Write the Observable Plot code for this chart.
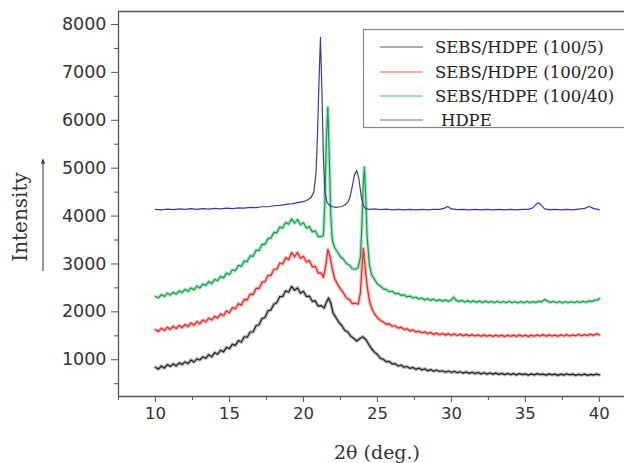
<!DOCTYPE html>
<html>
<head>
<meta charset="utf-8">
<script src="https://cdn.jsdelivr.net/npm/d3@7"></script>
<script src="https://cdn.jsdelivr.net/npm/@observablehq/plot@0.6"></script>
<style>
  html, body { margin: 0; padding: 0; background: #fff; }
  #chart { position: relative; width: 624px; height: 463px; overflow: hidden; }
</style>
</head>
<body>
<div id="chart"></div>
<script>
// ---- data (2θ in degrees, intensity in counts) ----
const seriesNames = ["SEBS/HDPE (100/5)", "SEBS/HDPE (100/20)", "SEBS/HDPE (100/40)", "HDPE"];
const seriesColors = ["#222222", "#e8261f", "#10a04a", "#3b3b9c"];

const sebs5 = [
[10.0,840],[10.2,805],[10.4,870],[10.6,825],[10.8,900],[11.0,860],[11.2,915],[11.4,870],[11.6,935],[11.8,900],
[12.0,955],[12.2,920],[12.4,995],[12.6,950],[12.8,1020],[13.0,995],[13.2,1060],[13.4,1030],[13.6,1105],[13.8,1060],
[14.0,1150],[14.2,1115],[14.4,1200],[14.6,1165],[14.8,1260],[15.0,1230],[15.2,1325],[15.4,1300],[15.6,1400],[15.8,1370],
[16.0,1480],[16.2,1470],[16.4,1580],[16.6,1580],[16.8,1710],[17.0,1730],[17.2,1860],[17.4,1880],[17.6,2020],[17.8,2040],
[18.0,2160],[18.2,2190],[18.4,2320],[18.6,2320],[18.8,2440],[19.0,2410],[19.2,2530],[19.4,2450],[19.6,2500],[19.8,2390],
[20.0,2430],[20.2,2320],[20.4,2330],[20.6,2220],[20.8,2230],[21.0,2120],[21.2,2130],[21.4,2080],[21.55,2200],[21.7,2290],
[21.85,2180],[22.0,1980],[22.2,1880],[22.4,1780],[22.6,1710],[22.8,1610],[23.0,1580],[23.2,1490],[23.4,1450],[23.6,1390],
[23.8,1440],[24.0,1480],[24.2,1430],[24.4,1330],[24.6,1230],[24.8,1160],[25.0,1110],[25.2,1030],[25.4,1010],[25.6,960],
[25.8,965],[26.0,910],[26.2,920],[26.4,870],[26.6,890],[26.8,845],[27.0,860],[27.2,820],[27.4,840],[27.6,800],
[27.8,825],[28.0,790],[28.2,810],[28.4,770],[28.6,795],[28.8,760],[29.0,785],[29.2,755],[29.4,770],[29.6,740],
[29.8,765],[30.0,735],[30.2,760],[30.4,730],[30.6,750],[30.8,720],[31.0,745],[31.2,715],[31.4,740],[31.6,710],
[31.8,735],[32.0,705],[32.2,730],[32.4,700],[32.6,725],[32.8,700],[33.0,720],[33.2,695],[33.4,715],[33.6,690],
[33.8,715],[34.0,690],[34.2,710],[34.4,685],[34.6,710],[34.8,690],[35.0,705],[35.2,680],[35.4,705],[35.6,685],
[35.8,710],[36.0,690],[36.2,700],[36.4,680],[36.6,705],[36.8,685],[37.0,700],[37.2,675],[37.4,700],[37.6,680],
[37.8,705],[38.0,685],[38.2,700],[38.4,675],[38.6,695],[38.8,680],[39.0,700],[39.2,675],[39.4,695],[39.6,680],
[39.8,700],[40.0,685]
];

const sebs20 = [
[10.0,1630],[10.2,1590],[10.4,1660],[10.6,1610],[10.8,1680],[11.0,1630],[11.2,1700],[11.4,1650],[11.6,1720],[11.8,1670],
[12.0,1740],[12.2,1690],[12.4,1770],[12.6,1720],[12.8,1800],[13.0,1750],[13.2,1830],[13.4,1790],[13.6,1870],[13.8,1830],
[14.0,1910],[14.2,1870],[14.4,1960],[14.6,1920],[14.8,2020],[15.0,1980],[15.2,2090],[15.4,2060],[15.6,2170],[15.8,2140],
[16.0,2260],[16.2,2250],[16.4,2370],[16.6,2360],[16.8,2490],[17.0,2490],[17.2,2620],[17.4,2630],[17.6,2760],[17.8,2760],
[18.0,2890],[18.2,2890],[18.4,3020],[18.6,3000],[18.8,3130],[19.0,3090],[19.2,3240],[19.4,3150],[19.6,3240],[19.8,3120],
[20.0,3160],[20.2,3040],[20.4,3070],[20.6,2940],[20.8,2950],[21.0,2810],[21.2,2810],[21.35,2720],[21.5,2950],[21.65,3300],
[21.8,3150],[21.95,2900],[22.1,2700],[22.3,2580],[22.5,2480],[22.7,2400],[22.9,2290],[23.1,2260],[23.3,2170],[23.5,2180],
[23.7,2160],[23.85,2400],[23.95,2900],[24.05,3320],[24.15,3000],[24.3,2550],[24.45,2250],[24.6,2080],[24.8,1960],[25.0,1880],
[25.2,1820],[25.4,1790],[25.6,1740],[25.8,1750],[26.0,1700],[26.2,1710],[26.4,1660],[26.6,1680],[26.8,1630],[27.0,1650],
[27.2,1600],[27.4,1625],[27.6,1580],[27.8,1600],[28.0,1560],[28.2,1585],[28.4,1545],[28.6,1570],[28.8,1530],[29.0,1560],
[29.2,1520],[29.4,1550],[29.6,1515],[29.8,1545],[30.0,1510],[30.2,1540],[30.4,1505],[30.6,1535],[30.8,1500],[31.0,1530],
[31.2,1495],[31.4,1525],[31.6,1495],[31.8,1520],[32.0,1490],[32.2,1520],[32.4,1490],[32.6,1515],[32.8,1485],[33.0,1515],
[33.2,1490],[33.4,1515],[33.6,1485],[33.8,1510],[34.0,1490],[34.2,1515],[34.4,1485],[34.6,1520],[34.8,1490],[35.0,1515],
[35.2,1485],[35.4,1515],[35.6,1490],[35.8,1520],[36.0,1495],[36.2,1525],[36.4,1490],[36.6,1520],[36.8,1495],[37.0,1515],
[37.2,1490],[37.4,1520],[37.6,1495],[37.8,1525],[38.0,1495],[38.2,1520],[38.4,1500],[38.6,1530],[38.8,1500],[39.0,1525],
[39.2,1505],[39.4,1535],[39.6,1510],[39.8,1540],[40.0,1520]
];

const sebs40 = [
[10.0,2320],[10.2,2290],[10.4,2360],[10.6,2320],[10.8,2390],[11.0,2350],[11.2,2410],[11.4,2370],[11.6,2440],[11.8,2400],
[12.0,2470],[12.2,2430],[12.4,2500],[12.6,2460],[12.8,2540],[13.0,2500],[13.2,2580],[13.4,2550],[13.6,2630],[13.8,2590],
[14.0,2680],[14.2,2650],[14.4,2740],[14.6,2710],[14.8,2810],[15.0,2780],[15.2,2880],[15.4,2860],[15.6,2970],[15.8,2950],
[16.0,3060],[16.2,3050],[16.4,3170],[16.6,3160],[16.8,3290],[17.0,3280],[17.2,3410],[17.4,3410],[17.6,3530],[17.8,3540],
[18.0,3660],[18.2,3650],[18.4,3770],[18.6,3750],[18.8,3870],[19.0,3830],[19.2,3940],[19.4,3850],[19.6,3930],[19.8,3820],
[20.0,3860],[20.2,3750],[20.4,3780],[20.6,3670],[20.8,3690],[21.0,3570],[21.2,3570],[21.35,3600],[21.45,4300],[21.55,5600],
[21.65,6270],[21.75,5200],[21.85,4000],[21.95,3500],[22.1,3350],[22.3,3250],[22.5,3150],[22.7,3100],[22.9,3010],[23.1,2980],
[23.3,2900],[23.5,2890],[23.7,2920],[23.85,3150],[23.95,3800],[24.05,4700],[24.12,5020],[24.2,4500],[24.3,3600],[24.45,3000],
[24.6,2780],[24.8,2680],[25.0,2580],[25.2,2540],[25.4,2480],[25.6,2470],[25.8,2420],[26.0,2430],[26.2,2380],[26.4,2390],
[26.6,2340],[26.8,2360],[27.0,2310],[27.2,2330],[27.4,2290],[27.6,2310],[27.8,2270],[28.0,2290],[28.2,2250],[28.4,2275],
[28.6,2240],[28.8,2265],[29.0,2230],[29.2,2255],[29.4,2225],[29.6,2250],[29.8,2220],[30.0,2250],[30.15,2310],[30.3,2250],
[30.5,2215],[30.7,2240],[30.9,2205],[31.1,2235],[31.3,2200],[31.5,2230],[31.7,2200],[31.9,2225],[32.1,2195],[32.3,2225],
[32.5,2195],[32.7,2220],[32.9,2190],[33.1,2220],[33.3,2190],[33.5,2215],[33.7,2190],[33.9,2220],[34.1,2190],[34.3,2215],
[34.5,2185],[34.7,2215],[34.9,2190],[35.1,2220],[35.3,2190],[35.5,2215],[35.7,2195],[35.9,2220],[36.1,2210],[36.3,2260],
[36.5,2225],[36.7,2195],[36.9,2220],[37.1,2190],[37.3,2215],[37.5,2185],[37.7,2215],[37.9,2190],[38.1,2215],[38.3,2190],
[38.5,2215],[38.7,2195],[38.9,2220],[39.1,2200],[39.3,2230],[39.5,2215],[39.7,2245],[39.9,2250],[40.0,2280]
];

const hdpe = [
[10.0,4140],[10.4,4130],[10.8,4145],[11.2,4135],[11.6,4150],[12.0,4140],[12.4,4155],[12.8,4140],[13.2,4155],[13.6,4145],
[14.0,4160],[14.4,4150],[14.8,4165],[15.2,4155],[15.6,4170],[16.0,4165],[16.4,4180],[16.8,4175],[17.2,4195],[17.6,4195],
[18.0,4215],[18.4,4225],[18.8,4245],[19.2,4255],[19.6,4280],[20.0,4300],[20.3,4340],[20.5,4380],[20.7,4500],[20.85,4900],
[20.95,5700],[21.05,6800],[21.15,7730],[21.25,6600],[21.35,5200],[21.45,4500],[21.6,4280],[21.8,4210],[22.0,4195],[22.2,4180],
[22.4,4190],[22.6,4200],[22.8,4230],[23.0,4290],[23.15,4400],[23.3,4620],[23.45,4860],[23.6,4950],[23.75,4780],[23.9,4420],
[24.05,4220],[24.2,4155],[24.5,4140],[24.8,4150],[25.2,4135],[25.6,4145],[26.0,4130],[26.4,4140],[26.8,4130],[27.2,4140],
[27.6,4130],[28.0,4140],[28.4,4130],[28.8,4140],[29.2,4140],[29.5,4160],[29.75,4200],[30.0,4150],[30.4,4135],[30.8,4140],
[31.2,4130],[31.6,4140],[32.0,4130],[32.4,4140],[32.8,4130],[33.2,4140],[33.6,4130],[34.0,4140],[34.4,4130],[34.8,4140],
[35.2,4140],[35.5,4170],[35.75,4250],[35.9,4280],[36.1,4220],[36.3,4150],[36.6,4135],[37.0,4140],[37.4,4130],[37.8,4140],
[38.2,4130],[38.6,4145],[39.0,4160],[39.3,4200],[39.6,4160],[40.0,4130]
];

const xTicks = [10, 15, 20, 25, 30, 35, 40];
const xMinorTicks = [7.5, 12.5, 17.5, 22.5, 27.5, 32.5, 37.5];
const yTicks = [1000, 2000, 3000, 4000, 5000, 6000, 7000, 8000];
const yMinorTicks = [500, 1500, 2500, 3500, 4500, 5500, 6500, 7500];
const xDomain = [7.5, 41.7];
const yDomain = [233, 8271];

// ---- build long table for Plot ----
const allSeries = [sebs5, sebs20, sebs40, hdpe];
const rows = allSeries.flatMap((s, i) => s.map(([x, y]) => ({x, y, name: seriesNames[i]})));
const noisyRows = rows.filter(d => d.name !== "HDPE");

const axisColor = "#555";
const chart = Plot.plot({
  width: 624,
  height: 463,
  marginLeft: 118,
  marginRight: 0,
  marginTop: 11,
  marginBottom: 67,
  x: {domain: xDomain},
  y: {domain: yDomain},
  color: {domain: seriesNames, range: seriesColors},
  style: {fontFamily: "'DejaVu Sans', sans-serif", fontSize: "16px", color: "#333", background: "#fff", overflow: "visible"},
  marks: [
    // soft halo to mimic the fuzzy, noisy traces of the diffractograms
    Plot.line(noisyRows, {x: "x", y: "y", z: "name", stroke: "name", strokeWidth: 3.6, strokeOpacity: 0.3, strokeLinejoin: "round"}),
    Plot.line(rows, {x: "x", y: "y", z: "name", stroke: "name", strokeWidth: 1.2, strokeLinejoin: "round"}),
    Plot.axisX({ticks: xTicks, tickSize: 6, tickPadding: 5, tickFormat: d => String(d), label: null, stroke: axisColor, fontSize: 16.5}),
    Plot.axisX({ticks: xMinorTicks, tickSize: 4, tickFormat: () => "", label: null, stroke: axisColor}),
    Plot.axisY({ticks: yTicks, tickSize: 7, tickPadding: 5, tickFormat: d => String(d), label: null, stroke: axisColor, fontSize: 17.5}),
    Plot.axisY({ticks: yMinorTicks, tickSize: 4, tickFormat: () => "", label: null, stroke: axisColor}),
    Plot.ruleX([xDomain[0]], {stroke: axisColor, strokeWidth: 1.3}),
    Plot.ruleY([yDomain[0]], {stroke: axisColor, strokeWidth: 1.3}),
    Plot.ruleY([yDomain[1]], {stroke: axisColor, strokeWidth: 1.3})
  ]
});

const container = document.getElementById("chart");
container.appendChild(chart);

// ---- annotations: axis titles, arrow, legend ----
const svg = d3.select(chart);
const serif = "'DejaVu Serif', 'Liberation Serif', serif";

svg.append("text")
  .attr("x", 377).attr("y", 459)
  .attr("text-anchor", "middle")
  .attr("font-family", serif).attr("font-size", 19).attr("fill", "#333")
  .text("2θ (deg.)");

svg.append("text")
  .attr("transform", "translate(27,217) rotate(-90)")
  .attr("text-anchor", "middle")
  .attr("font-family", serif).attr("font-size", 20).attr("fill", "#333")
  .text("Intensity");

const defs = svg.append("defs");
defs.append("marker").attr("id", "arrowhead")
  .attr("viewBox", "0 0 10 10").attr("refX", 5).attr("refY", 5)
  .attr("markerWidth", 5).attr("markerHeight", 7).attr("orient", "auto")
  .append("path").attr("d", "M0,1 L10,5 L0,9 Z").attr("fill", "#444");
svg.append("line")
  .attr("x1", 43).attr("y1", 271).attr("x2", 43).attr("y2", 161)
  .attr("stroke", "#444").attr("stroke-width", 1.1)
  .attr("marker-end", "url(#arrowhead)");

// legend
const lg = svg.append("g");
lg.append("rect")
  .attr("x", 363.5).attr("y", 29.5).attr("width", 270).attr("height", 98)
  .attr("fill", "#fff").attr("stroke", "#888").attr("stroke-width", 1.2);
const rowY = [47, 72, 96, 120];
seriesNames.forEach((name, i) => {
  lg.append("line")
    .attr("x1", 380).attr("x2", 423).attr("y1", rowY[i]).attr("y2", rowY[i])
    .attr("stroke", seriesColors[i]).attr("stroke-width", 1).attr("stroke-opacity", 0.75);
  lg.append("text")
    .attr("x", name === "HDPE" ? 441 : 435).attr("y", rowY[i]).attr("dy", "0.36em")
    .attr("text-anchor", "start")
    .attr("font-family", serif).attr("font-size", 16.5).attr("fill", "#222")
    .text(name);
});
</script>
</body>
</html>
